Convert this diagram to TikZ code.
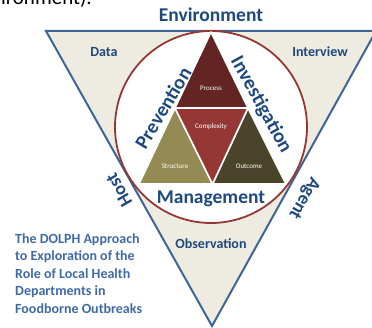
\documentclass[tikz,border=0pt]{standalone}
\usepackage{fontspec}
\setmainfont{Carlito}

\definecolor{navy}{RGB}{31, 73, 125}
\definecolor{edge}{RGB}{62, 101, 150}
\definecolor{sand}{RGB}{238, 236, 225}
\definecolor{ring}{RGB}{149, 55, 53}
\definecolor{wine}{RGB}{99, 37, 35}
\definecolor{brick}{RGB}{149, 55, 53}
\definecolor{olive}{RGB}{148, 138, 84}
\definecolor{moss}{RGB}{74, 69, 42}
\definecolor{capblue}{RGB}{64, 106, 166}

\begin{document}
\begin{tikzpicture}[x=1pt, y=-1pt,
    word/.style={text=navy, inner sep=0pt, font=\bfseries\fontsize{#1}{#1}\selectfont},
    part/.style={fill=#1, draw=white, line width=1.6pt, line join=round},
    tag/.style={text=white, inner sep=0pt, font=\fontsize{7}{7}\selectfont}]
  \useasboundingbox (0,0) rectangle (372,328);

  \begin{scope}
    \clip (0,0) rectangle (372,328);
    \node[anchor=base east, inner sep=0pt, font=\fontsize{21}{21}\selectfont] (lead) at (92,5) {Environment).};
  \end{scope}

  \coordinate (L) at (46, 31);
  \coordinate (R) at (376, 31);
  \coordinate (V) at (212, 326);

  \draw[edge, line width=2pt, fill=sand] (L) -- (R) -- (V) -- cycle;
  \draw[ring, line width=1.8pt, fill=white] (211, 127) circle[radius=96pt];

  % inner triangle cut into four
  \coordinate (top) at (211, 32);
  \coordinate (bl) at (139, 184);
  \coordinate (br) at (286, 184);
  \coordinate (ml) at (175, 108);
  \coordinate (mr) at (248, 108);
  \coordinate (mb) at (212.5, 184);

  \draw[part=wine] (top) -- (mr) -- (ml) -- cycle;
  \draw[part=olive] (ml) -- (mb) -- (bl) -- cycle;
  \draw[part=moss] (mr) -- (br) -- (mb) -- cycle;
  \draw[part=brick] (ml) -- (mr) -- (mb) -- cycle;

  \node[tag] (process) at (211, 88) {Process};
  \node[tag] (complexity) at (211, 127) {Complexity};
  \node[tag] (structure) at (175, 166) {Structure};
  \node[tag] (outcome) at (249, 166) {Outcome};

  \node[word=19.5] (environment) at (211, 15) {Environment};
  \node[word=19.5] (management) at (211, 199) {Management};
  \node[word=20, rotate=59] (prevention) at (163, 108) {Prevention};
  \node[word=20, rotate=-61] (investigation) at (261, 105) {Investigation};
  \node[word=18.5, rotate=120] (host) at (119, 190) {Host};
  \node[word=18.5, rotate=-120] (agent) at (304, 198) {Agent};

  \node[word=14] (data) at (104, 52) {Data};
  \node[word=14] (interview) at (320, 52) {Interview};
  \node[word=14] (observation) at (211, 244) {Observation};

  \node[anchor=north west, align=left, inner sep=0pt, text=capblue,
        font=\bfseries\fontsize{14}{17.5}\selectfont] (caption) at (15, 233)
    {The DOLPH Approach\\to Exploration of the\\Role of Local Health\\Departments in\\Foodborne Outbreaks};
\end{tikzpicture}
\end{document}
